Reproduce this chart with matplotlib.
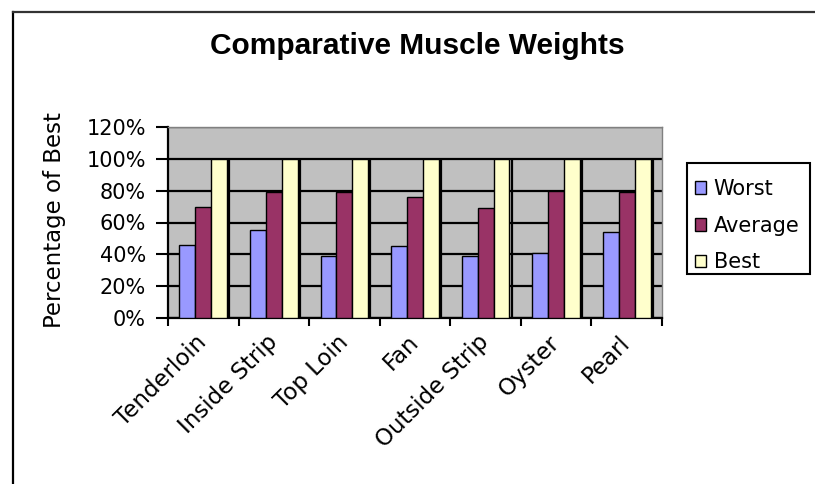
import matplotlib
matplotlib.use("Agg")
import matplotlib.pyplot as plt
import numpy as np
from matplotlib.lines import Line2D
from matplotlib.patches import Patch, Rectangle
from matplotlib.ticker import PercentFormatter, FixedLocator

cuts = ["Tenderloin", "Inside Strip", "Top Loin", "Fan", "Outside Strip", "Oyster", "Pearl"]
worst = [0.46, 0.55, 0.39, 0.45, 0.39, 0.41, 0.54]
average = [0.70, 0.79, 0.79, 0.76, 0.69, 0.80, 0.79]
best = [1.00, 1.00, 1.00, 1.00, 1.00, 1.00, 1.00]

series = ["Worst", "Average", "Best"]
colors = ["#9999FF", "#993366", "#FFFFCC"]

W, H = 815, 484
fig = plt.figure(figsize=(W / 100, H / 100), dpi=100)
fig.patch.set_facecolor("white")

# chart area border (only left and top edges fall inside the image)
fig.add_artist(Line2D([13 / W, 13 / W], [0, 1 - 12 / H], color="black", lw=1.6))
fig.add_artist(Line2D([13 / W, 1], [1 - 12 / H, 1 - 12 / H], color="#333333", lw=1.6))

ax = fig.add_axes([168 / W, 1 - 318 / H, (662 - 168) / W, (318 - 127) / H])
ax.set_facecolor("#C0C0C0")

x = np.arange(len(cuts))
w = 0.225
ax.bar(x - w, worst, w, color=colors[0], edgecolor="black", linewidth=1.0, zorder=3)
ax.bar(x, average, w, color=colors[1], edgecolor="black", linewidth=1.0, zorder=3)
ax.bar(x + w, best, w, color=colors[2], edgecolor="black", linewidth=1.0, zorder=3)
# drop lines beside each group
ax.vlines(x + 1.5 * w + 0.03, 0, best, color="black", lw=1.6, zorder=2)

ax.set_xlim(-0.5, len(cuts) - 0.5)
ax.set_ylim(0, 1.2)
ax.yaxis.set_major_locator(FixedLocator(np.arange(0, 1.21, 0.2)))
ax.yaxis.set_major_formatter(PercentFormatter(1.0, decimals=0))
ax.grid(axis="y", color="black", lw=1.6, zorder=1)
ax.set_axisbelow(True)

ax.set_xticks(x)
ax.set_xticklabels(cuts, rotation=45, ha="right", va="center", rotation_mode="anchor",
                   fontsize=16.5, family="DejaVu Sans")
ax.set_xticks(np.arange(-0.5, len(cuts)), minor=True)
ax.tick_params(axis="x", which="major", length=0, pad=15)
ax.tick_params(axis="x", which="minor", length=6, width=1.5, color="black")
ax.tick_params(axis="y", length=9, width=1.5, color="black", labelsize=15, pad=7)
for lab in ax.get_yticklabels():
    lab.set_family("DejaVu Sans")

for side in ["left", "bottom"]:
    ax.spines[side].set_color("black")
    ax.spines[side].set_linewidth(1.6)
for side in ["top", "right"]:
    ax.spines[side].set_color("#808080")
    ax.spines[side].set_linewidth(1.0)

fig.text(417 / W, 1 - 46 / H, "Comparative Muscle Weights", ha="center", va="center",
         fontsize=21.5, fontweight="bold", family="Liberation Sans")
fig.text(55 / W, 1 - 220 / H, "Percentage of Best", rotation=90, ha="center", va="center",
         fontsize=16.5, family="DejaVu Sans")

# legend entries, with the box drawn separately
handles = [Patch(facecolor=c, edgecolor="black", linewidth=1.0) for c in colors]
leg = fig.legend(handles, series, loc="upper left", bbox_to_anchor=(695 / W, 1 - 179 / H),
                 borderaxespad=0, frameon=False, borderpad=0,
                 prop={"family": "DejaVu Sans", "size": 15}, handlelength=0.55,
                 handleheight=0.55, handletextpad=0.35, labelspacing=0.8)
fig.add_artist(Rectangle((687 / W, 1 - 274 / H), (810 - 687) / W, (274 - 163) / H,
                         transform=fig.transFigure, fill=False, edgecolor="black", lw=1.5))

fig.savefig("out.png", dpi=100)
